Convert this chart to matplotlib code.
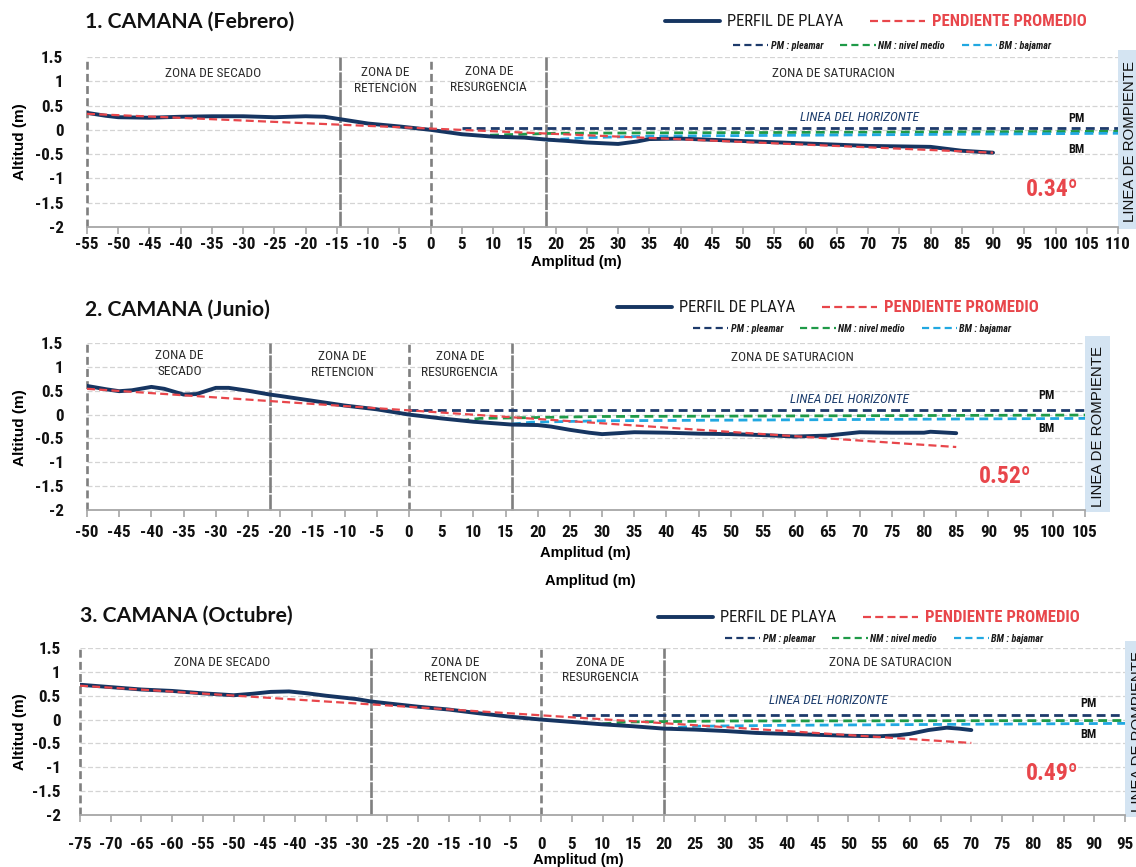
import matplotlib
matplotlib.use("Agg")
import matplotlib.pyplot as plt
from matplotlib import font_manager as fm
from matplotlib.patches import Rectangle
import numpy as np

# ---------------------------------------------------------------- data
titles = ["1. CAMANA (Febrero)", "2. CAMANA (Junio)", "3. CAMANA (Octubre)"]
x_limits = [(-55, 110), (-50, 105), (-75, 95)]
y_ticks = [1.5, 1, 0.5, 0, -0.5, -1, -1.5, -2]

# beach profiles (distance m, altitude m)
feb_x = [-55, -52, -50, -45, -40, -35, -30, -25, -20, -17, -14.5, -10, -5, 0, 5, 10, 15,
         18.5, 22, 25, 30, 33, 35, 40, 50, 60, 70, 80, 85, 90]
feb_y = [0.35, 0.29, 0.26, 0.25, 0.27, 0.28, 0.28, 0.26, 0.28, 0.27, 0.22, 0.13, 0.07, 0.0,
         -0.09, -0.14, -0.16, -0.2, -0.23, -0.26, -0.29, -0.24, -0.19, -0.18, -0.23, -0.28,
         -0.33, -0.35, -0.43, -0.47]
jun_x = [-50, -47, -45, -43, -40, -38, -35, -33, -30, -28, -25, -21.6, -20, -15, -10, -5, 0,
         5, 10, 16, 20, 22, 25, 28, 30, 35, 40, 45, 50, 55, 60, 65, 70, 75, 80, 81, 85]
jun_y = [0.6, 0.53, 0.49, 0.51, 0.58, 0.54, 0.42, 0.43, 0.56, 0.56, 0.5, 0.42, 0.39, 0.29,
         0.19, 0.11, 0.0, -0.08, -0.15, -0.21, -0.22, -0.25, -0.32, -0.38, -0.41, -0.37,
         -0.38, -0.4, -0.41, -0.43, -0.46, -0.44, -0.37, -0.38, -0.38, -0.36, -0.39]
oct_x = [-75, -70, -65, -60, -55, -50, -47, -44, -41, -38, -35, -30, -27.7, -25, -20, -15,
         -10, -5, 0, 5, 10, 15, 20, 25, 30, 35, 40, 45, 50, 55, 58, 60, 63, 66, 68, 70]
oct_y = [0.73, 0.68, 0.63, 0.6, 0.55, 0.51, 0.54, 0.58, 0.59, 0.55, 0.5, 0.43, 0.38, 0.34,
         0.27, 0.21, 0.13, 0.06, 0.0, -0.05, -0.1, -0.14, -0.19, -0.21, -0.24, -0.28, -0.3,
         -0.32, -0.34, -0.35, -0.33, -0.3, -0.22, -0.17, -0.19, -0.22]

# average slope lines
feb_slope_x, feb_slope_y = [-55, 90], [0.33, -0.47]
jun_slope_x, jun_slope_y = [-50, 85], [0.54, -0.68]
oct_slope_x, oct_slope_y = [-75, 70], [0.71, -0.49]
slope_angles = ["0.34º", "0.52º", "0.49º"]

# tide levels: PM (high), NM (mean), BM (low)
feb_pm_x, feb_pm_y = [5, 110], [0.03, 0.03]
feb_nm_x, feb_nm_y = [9.5, 20, 110], [-0.11, -0.07, -0.03]
feb_bm_x, feb_bm_y = [18.5, 25, 35, 110], [-0.21, -0.16, -0.13, -0.07]
jun_pm_x, jun_pm_y = [0, 105], [0.09, 0.09]
jun_nm_x, jun_nm_y = [8, 11, 30, 105], [-0.13, -0.08, -0.04, -0.01]
jun_bm_x, jun_bm_y = [16, 19, 30, 105], [-0.2, -0.16, -0.13, -0.08]
oct_pm_x, oct_pm_y = [5, 95], [0.09, 0.09]
oct_nm_x, oct_nm_y = [10, 14, 30, 95], [-0.09, -0.05, -0.03, -0.02]
oct_bm_x, oct_bm_y = [20, 25, 40, 95], [-0.19, -0.14, -0.12, -0.08]

# zone boundaries (m)
feb_zones = [-55, -14.5, 0, 18.5]
jun_zones = [-50, -21.6, 0, 16]
oct_zones = [-75, -27.7, 0, 20]
zone_names = ["ZONA DE SECADO", "ZONA DE\nRETENCION", "ZONA DE\nRESURGENCIA", "ZONA DE SATURACION"]

panels = [
    dict(px=feb_x, py=feb_y, sx=feb_slope_x, sy=feb_slope_y,
         pm=(feb_pm_x, feb_pm_y), nm=(feb_nm_x, feb_nm_y), bm=(feb_bm_x, feb_bm_y),
         zones=feb_zones),
    dict(px=jun_x, py=jun_y, sx=jun_slope_x, sy=jun_slope_y,
         pm=(jun_pm_x, jun_pm_y), nm=(jun_nm_x, jun_nm_y), bm=(jun_bm_x, jun_bm_y),
         zones=jun_zones),
    dict(px=oct_x, py=oct_y, sx=oct_slope_x, sy=oct_slope_y,
         pm=(oct_pm_x, oct_pm_y), nm=(oct_nm_x, oct_nm_y), bm=(oct_bm_x, oct_bm_y),
         zones=oct_zones),
]

# ---------------------------------------------------------------- layout (pixels)
W, H = 1136, 867
# left, right, top(1.5), bottom(-2)
axes_px = [(87, 1118, 57, 227), (87, 1085, 343, 510), (80, 1125, 648, 815)]
title_px = [(85, 22), (85, 310), (80, 616)]
leg1_px = [(665, 22), (617, 308), (658, 618)]
leg2_px = [(733, 46), (693, 329), (725, 639)]
xlab_px = [[(576, 262)], [(585, 553), (590, 581)], [(578, 860)]]
ylab_px = [142, 428, 732]
ytick_pad = [17, 17, 14]
xtick_pad = [2.5, 6.0, 10.5]
zone_text_pos = [
    [(-34.8, 1.17), (-7.3, 1.02), (9.3, 1.04), (64.4, 1.17)],
    [(-35.6, 1.07), (-10.4, 1.05), (7.9, 1.05), (59.5, 1.19)],
    [(-51.9, 1.19), (-14.0, 1.04), (9.7, 1.04), (56.9, 1.19)],
]
zone_names_per_panel = [
    zone_names,
    ["ZONA DE\nSECADO", "ZONA DE\nRETENCION", "ZONA DE\nRESURGENCIA", "ZONA DE SATURACION"],
    zone_names,
]
horizon_pos = [(68.7, 0.25), (68.5, 0.32), (46.7, 0.41)]
pm_lab_pos = [(103.4, 0.24), (99.0, 0.39), (89.0, 0.33)]
bm_lab_pos = [(103.4, -0.41), (99.0, -0.29), (89.0, -0.31)]
angle_pos = [(99.4, -1.23), (92.6, -1.29), (83.1, -1.14)]


def has_font(name):
    try:
        fm.findfont(fm.FontProperties(family=name), fallback_to_default=False)
        return True
    except Exception:
        return False


NARROW = None
for cand in ("Liberation Sans Narrow", "Arial Narrow", "Roboto Condensed", "Open Sans Condensed"):
    if has_font(cand):
        NARROW = cand
        break
K = 1.0 if NARROW else 0.86
if NARROW is None:
    NARROW = "Liberation Sans"
TITLE_FONT = "Lato" if has_font("Lato") else "DejaVu Sans"

NAVY = "#163561"
RED = "#e8464b"
PM_C = "#1d3a6b"
NM_C = "#1f9a48"
BM_C = "#21a8e1"
ZONE_C = "#7f7f7f"

fig = plt.figure(figsize=(W / 100, H / 100), dpi=100)
fig.patch.set_facecolor("white")

for i, p in enumerate(panels):
    l, r, t, b = axes_px[i]
    ax = fig.add_axes([l / W, 1 - b / H, (r - l) / W, (b - t) / H])
    x0, x1 = x_limits[i]
    ax.set_xlim(x0, x1)
    ax.set_ylim(-2, 1.5)

    # frame and ticks
    for s in ("left", "right", "top"):
        ax.spines[s].set_visible(False)
    ax.spines["bottom"].set_color("#a6a6a6")
    ax.spines["bottom"].set_linewidth(1.3)
    ax.set_xticks(np.arange(x0, x1 + 1, 5))
    ax.set_xticklabels([f"{v:d}" for v in np.arange(x0, x1 + 1, 5)])
    ax.set_yticks(y_ticks)
    ax.set_yticklabels([f"{v:g}" for v in y_ticks])
    ax.tick_params(axis="x", direction="out", length=5, width=1.2, color="#a6a6a6",
                   pad=xtick_pad[i])
    ax.tick_params(axis="y", length=0, pad=ytick_pad[i])
    for lab in ax.get_xticklabels() + ax.get_yticklabels():
        lab.set_fontfamily(NARROW)
        lab.set_fontweight("bold")
        lab.set_fontsize(12.3 * K)
        lab.set_color("#111111")
    ax.yaxis.grid(True, color="#d4d4d4", linestyle=(0, (4, 2)), linewidth=0.9)
    ax.set_axisbelow(True)

    # zone boundaries
    for j, zx in enumerate(p["zones"]):
        style = (0, (3.0, 1.6)) if j in (0, 2) else (0, (6, 0.6))
        ax.axvline(zx, color=ZONE_C, linestyle=style, linewidth=1.9, clip_on=False, zorder=1)
    for name, (tx, ty) in zip(zone_names_per_panel[i], zone_text_pos[i]):
        ax.text(tx, ty, name, ha="center", va="center", fontsize=9.6 * K, family=NARROW,
                color="#2b2b2b", linespacing=1.25)

    # tide levels
    l_pm, = ax.plot(*p["pm"], color=PM_C, linestyle=(0, (3.2, 1.9)), linewidth=2.0, zorder=3)
    l_nm, = ax.plot(*p["nm"], color=NM_C, linestyle=(0, (3.2, 1.9)), linewidth=2.0, zorder=3)
    l_bm, = ax.plot(*p["bm"], color=BM_C, linestyle=(0, (3.2, 1.9)), linewidth=2.0, zorder=3)

    # beach profile and average slope
    l_prof, = ax.plot(p["px"], p["py"], color=NAVY, linewidth=2.8, solid_joinstyle="round",
                      solid_capstyle="round", zorder=4)
    l_red, = ax.plot(p["sx"], p["sy"], color=RED, linestyle=(0, (3.6, 1.9)), linewidth=1.6,
                     zorder=5)

    # annotations
    hx, hy = horizon_pos[i]
    ax.text(hx, hy, "LINEA DEL HORIZONTE", ha="center", va="center", fontsize=9.6 * K,
            family=NARROW, style="italic", color="#1f3f6e")
    ax.text(*pm_lab_pos[i], "PM", ha="center", va="center", fontsize=8.8 * K, family=NARROW,
            fontweight="bold", color="#111111")
    ax.text(*bm_lab_pos[i], "BM", ha="center", va="center", fontsize=8.8 * K, family=NARROW,
            fontweight="bold", color="#111111")
    ax.text(*angle_pos[i], slope_angles[i], ha="center", va="center", fontsize=17 * K,
            family=NARROW, fontweight="bold", color=RED)

    # breaker line box
    bw = 25 / (r - l)
    ax.add_patch(Rectangle((1.0, -0.01), bw, 1.05, transform=ax.transAxes, clip_on=False,
                           facecolor="#d4e4f2", edgecolor="none", zorder=0))
    ax.text(1.0 + bw / 2, 0.5, "LINEA DE ROMPIENTE", transform=ax.transAxes, rotation=90,
            ha="center", va="center", fontsize=10.8, family="Liberation Sans",
            color="#111111", clip_on=False)

    # titles and axis labels
    tx, ty = title_px[i]
    fig.text(tx / W, 1 - ty / H, titles[i], ha="left", va="center", fontsize=15.3,
             family=TITLE_FONT, fontweight="bold", color="#111111")
    fig.text(20 / W, 1 - ylab_px[i] / H, "Altitud (m)", rotation=90, ha="center",
             va="center", fontsize=11, family="Liberation Sans", fontweight="bold")
    for (lx, ly) in xlab_px[i]:
        fig.text(lx / W, 1 - ly / H, "Amplitud (m)", ha="center", va="center",
                 fontsize=10.6, family="Liberation Sans", fontweight="bold")

    # legends
    lx, ly = leg1_px[i]
    leg1 = ax.legend(handles=[l_prof, l_red], labels=["PERFIL DE PLAYA", "PENDIENTE PROMEDIO"],
                     ncol=2, loc="center left", bbox_to_anchor=(lx / W, 1 - ly / H),
                     bbox_transform=fig.transFigure, frameon=False, borderpad=0,
                     borderaxespad=0, handlelength=3.3, handletextpad=0.4,
                     columnspacing=1.65,
                     prop=fm.FontProperties(family=NARROW, size=12 * K))
    leg1.get_texts()[0].set_color("#1a1a1a")
    leg1.get_texts()[1].set_color(RED)
    leg1.get_texts()[1].set_fontweight("bold")
    ax.add_artist(leg1)
    lx, ly = leg2_px[i]
    leg2 = ax.legend(handles=[l_pm, l_nm, l_bm],
                     labels=["PM : pleamar", "NM : nivel medio", "BM : bajamar"],
                     ncol=3, loc="center left", bbox_to_anchor=(lx / W, 1 - ly / H),
                     bbox_transform=fig.transFigure, frameon=False, borderpad=0,
                     borderaxespad=0, handlelength=3.5, handletextpad=0.2,
                     columnspacing=1.7,
                     prop=fm.FontProperties(family=NARROW, size=7.3 * K, weight="bold",
                                            style="italic"))
    for txt in leg2.get_texts():
        txt.set_color("#1a1a1a")
    for h in leg2.legend_handles:
        h.set_linewidth(1.6)

fig.savefig("out.png", dpi=100, facecolor="white")
